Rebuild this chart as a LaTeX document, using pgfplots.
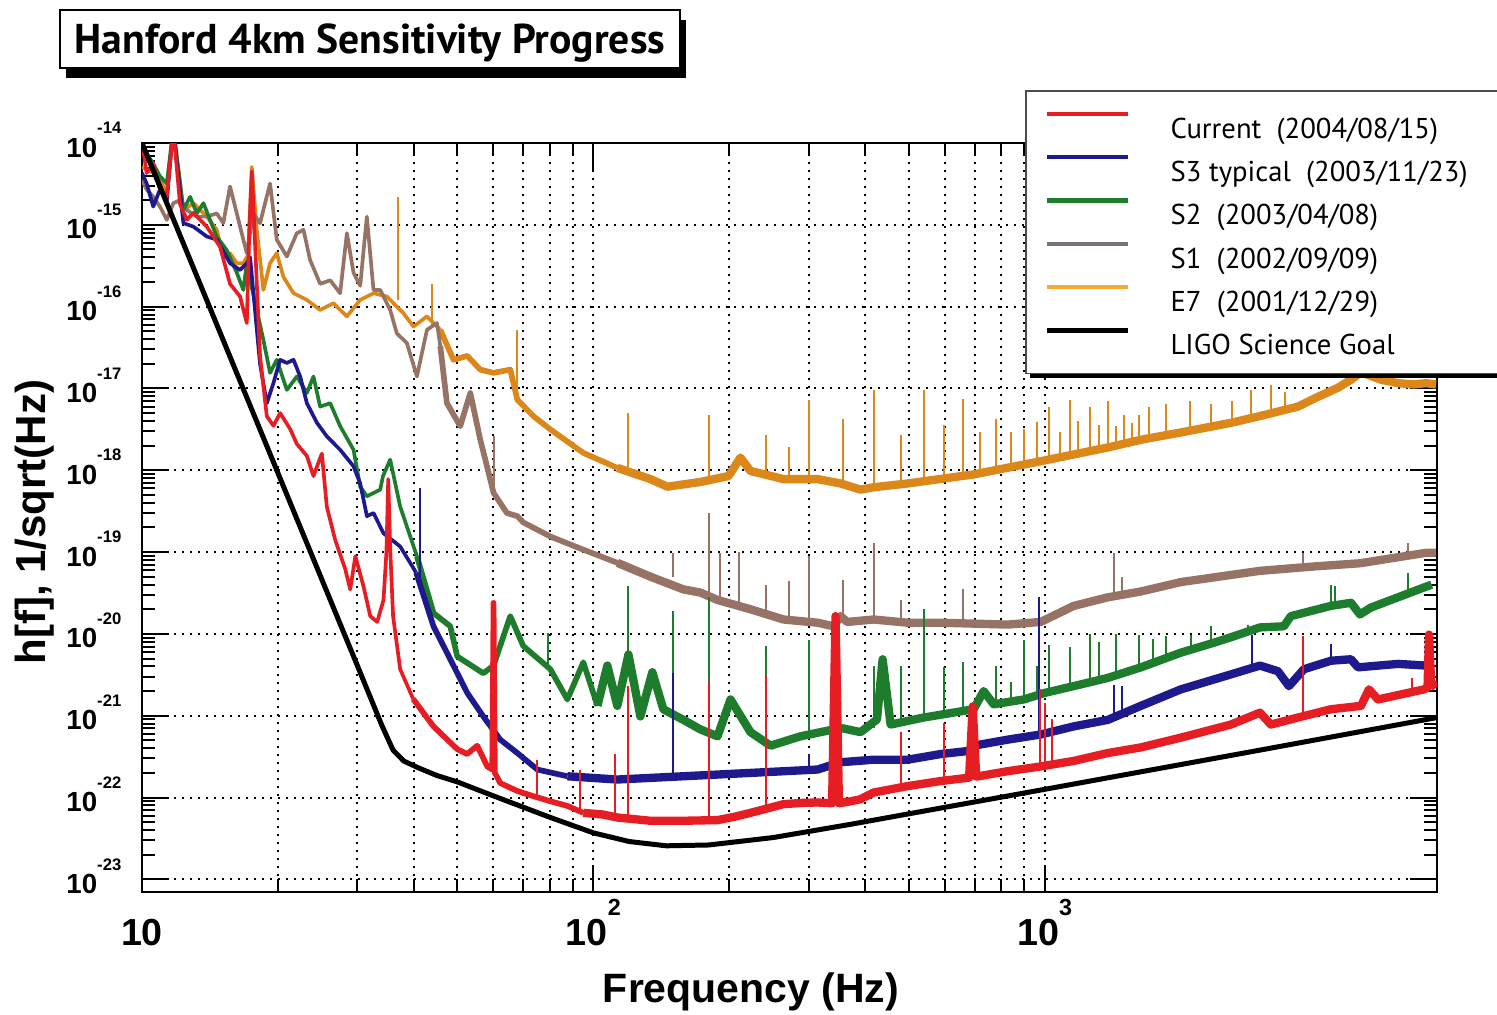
\documentclass[border=0pt]{standalone}
\usepackage{fontspec}
\usepackage{pgfplots}
\pgfplotsset{compat=1.18}
\newfontfamily\helv{Liberation Sans}
\newfontfamily\ptsans{PT Sans}
\definecolor{cred}{RGB}{230,30,35}
\definecolor{cblue}{RGB}{30,25,140}
\definecolor{cgreen}{RGB}{30,125,45}
\definecolor{cbrown}{RGB}{150,115,100}
\definecolor{corange}{RGB}{220,135,25}
\definecolor{lgray}{RGB}{120,112,125}
\definecolor{lorange}{RGB}{245,170,50}
\newcommand{\ylab}[1]{{\helv\bfseries\fontsize{8.3}{9}\selectfont 10\raisebox{7pt}{\fontsize{5}{6}\selectfont #1}}}
\newcommand{\xlab}[1]{{\helv\bfseries\fontsize{11.3}{12}\selectfont 10\raisebox{9pt}{\fontsize{7}{8}\selectfont #1}}}
\newcommand{\lent}[1]{\makebox[105pt][l]{#1}}
\begin{document}
\begin{tikzpicture}
\useasboundingbox (-42.6pt,-36.9pt) rectangle (406.5pt,267.6pt);
\begin{axis}[
  at={(0,0)}, anchor=south west,
  scale only axis, width=388.5pt, height=224.7pt,
  xmode=log, ymode=log,
  xmin=10, xmax=7400, ymin=7e-24, ymax=1e-14,
  clip mode=individual,
  axis line style={black, line width=0.8pt},
  xtick={10,100,1000}, xticklabels={\xlab{}, \xlab{2}, \xlab{3}},
  ytick={1e-23,1e-22,1e-21,1e-20,1e-19,1e-18,1e-17,1e-16,1e-15,1e-14},
  yticklabels={\ylab{-23},\ylab{-22},\ylab{-21},\ylab{-20},\ylab{-19},\ylab{-18},\ylab{-17},\ylab{-16},\ylab{-15},\ylab{-14}},
  xticklabel style={anchor=base, inner sep=0pt, yshift=-15.9pt},
  yticklabel style={anchor=base east, inner sep=0pt, xshift=-6pt, yshift=-4.2pt},
  major tick length=8pt, minor tick length=4pt,
  tick style={black, line width=0.6pt},
  xmajorgrids=true, xminorgrids=true, ymajorgrids=true, yminorgrids=false,
  major grid style={black, line width=0.6pt, dash pattern=on 0.6pt off 1.8pt},
  minor grid style={black, line width=0.6pt, dash pattern=on 0.6pt off 1.8pt},
  xlabel={Frequency (Hz)},
  xlabel style={at={(axis description cs:0.4703,-0.148)}, anchor=base, inner sep=0pt, font=\helv\bfseries\fontsize{12.3}{14}\selectfont},
  ylabel={h[f], 1/sqrt(Hz)},
  ylabel style={at={(axis description cs:-0.0749,0.494)}, anchor=base, inner sep=0pt, font=\helv\bfseries\fontsize{12.6}{14}\selectfont},
  unbounded coords=jump,
  legend cell align=left,
  legend image code/.code={\draw[#1] (0pt,3pt) -- (24.5pt,3pt);},
  legend style={at={(0.6819,1.0708)}, anchor=north west,
    draw=black!70, line width=0.5pt, fill=white,
    inner xsep=5.6pt, inner ysep=5.6pt, row sep=4.4pt, column sep=12pt,
    nodes={inner sep=0pt, text height=8.6pt, text depth=0pt},
    font=\ptsans\fontsize{8.6}{10}\selectfont},
  every axis plot/.append style={line join=round},
]
\addlegendimage{cred, line width=1.3pt}\addlegendentry{\lent{Current\ \ (2004/08/15)}}
\addlegendimage{cblue, line width=1.3pt}\addlegendentry{\lent{S3 typical\ \ (2003/11/23)}}
\addlegendimage{cgreen, line width=1.3pt}\addlegendentry{\lent{S2\ \ (2003/04/08)}}
\addlegendimage{lgray, line width=1.3pt}\addlegendentry{\lent{S1\ \ (2002/09/09)}}
\addlegendimage{lorange, line width=1.3pt}\addlegendentry{\lent{E7\ \ (2001/12/29)}}
\addlegendimage{black, line width=1.3pt}\addlegendentry{\lent{LIGO Science Goal}}

% ---------- E7 (orange) ----------
\addplot[corange, line width=1.1pt, forget plot] table {
10.0 5.1e-15
10.59 4.3e-15
10.96 3.55e-15
11.35 2.44e-15
11.73 1.5e-14
12.35 1.52e-15
13.0 1.84e-15
13.92 1.26e-15
14.64 8.7e-16
15.14 4.1e-16
15.67 4.5e-16
16.22 3.4e-16
16.77 3.4e-16
17.2 4.3e-16
17.51 5.1e-15
17.96 8.7e-16
18.58 1.6e-16
19.22 3.4e-16
19.89 4.5e-16
20.58 2.3e-16
21.66 1.46e-16
23.19 1.21e-16
24.81 9.1e-17
26.56 1.1e-16
28.44 7.6e-17
30.44 1.21e-16
32.58 1.46e-16
34.89 1.33e-16
37.96 8.3e-17
39.96 5.7e-17
42.79 7.6e-17
45.8 5.2e-17
};
\addplot[corange, line width=1.7pt, forget plot] table {
45.8 5.2e-17
49.0 2.24e-17
52.56 2.5e-17
56.17 1.7e-17
60.1 1.55e-17
65.46 1.7e-17
67.86 7.3e-18
73.62 4.6e-18
80.3 3.16e-18
95 1.63e-18
113 1.07e-18
};
\addplot[corange, line width=2.5pt, forget plot] table {
113 1.07e-18
133.8 7.8e-19
145.9 6.3e-19
172.7 7.2e-19
199.3 8.5e-19
211.8 1.43e-18
222.9 9.8e-19
263.9 7.8e-19
313.9 7.8e-19
353 6.9e-19
390.8 5.8e-19
417.7 6.2e-19
497 6.9e-19
696 8.9e-19
980 1.29e-18
1380 1.9e-18
1633 2.36e-18
2003 2.9e-18
2585 3.8e-18
2998 4.6e-18
3639 6.0e-18
3990 7.7e-18
4463 1.02e-17
4770 1.28e-17
5019 1.58e-17
5559 1.28e-17
6063 1.16e-17
6580 1.12e-17
6995 1.16e-17
7362 1.12e-17
};
\addplot[corange, line width=0.6pt, forget plot] coordinates {
(37.01,1.2e-16)(37.01,2.21e-15)(37.01,nan)
(43.9,6e-17)(43.9,1.9e-16)(43.9,nan)
(67.86,1e-17)(67.86,5.2e-17)(67.86,nan)
(119.6,1.1e-18)(119.6,5.0e-18)(119.6,nan)
(180,7e-19)(180,4.8e-18)(180,nan)
(240.7,8e-19)(240.7,2.7e-18)(240.7,nan)
(270.7,8e-19)(270.7,1.95e-18)(270.7,nan)
(299.7,8e-19)(299.7,7.3e-18)(299.7,nan)
(358,7e-19)(358,4.2e-18)(358,nan)
(417.7,6e-19)(417.7,9.6e-18)(417.7,nan)
(479.5,6.5e-19)(479.5,2.7e-18)(479.5,nan)
(539.2,7e-19)(539.2,9.6e-18)(539.2,nan)
(597,7.5e-19)(597,3.6e-18)(597,nan)
(658,8e-19)(658,7.4e-18)(658,nan)
(717.7,9e-19)(717.7,2.9e-18)(717.7,nan)
(778.7,1e-18)(778.7,4.2e-18)(778.7,nan)
(840.6,1.1e-18)(840.6,2.9e-18)(840.6,nan)
(898.5,1.2e-18)(898.5,3.2e-18)(898.5,nan)
(960,1.25e-18)(960,3.9e-18)(960,nan)
(1021,1.3e-18)(1021,5.9e-18)(1021,nan)
(1080,1.5e-18)(1080,2.9e-18)(1080,nan)
(1136,1.6e-18)(1136,7.3e-18)(1136,nan)
(1184,1.7e-18)(1184,4.0e-18)(1184,nan)
(1258,1.8e-18)(1258,5.9e-18)(1258,nan)
(1317,1.9e-18)(1317,3.6e-18)(1317,nan)
(1380,2.0e-18)(1380,7.0e-18)(1380,nan)
(1437,2.1e-18)(1437,3.5e-18)(1437,nan)
(1497,2.2e-18)(1497,4.8e-18)(1497,nan)
(1559,2.3e-18)(1559,3.8e-18)(1559,nan)
(1616,2.35e-18)(1616,4.8e-18)(1616,nan)
(1700,2.4e-18)(1700,6e-18)(1700,nan)
(1860,2.7e-18)(1860,6.5e-18)(1860,nan)
(2100,3e-18)(2100,7e-18)(2100,nan)
(2330,3.4e-18)(2330,6.5e-18)(2330,nan)
(2600,3.8e-18)(2600,7e-18)(2600,nan)
(2870,4.4e-18)(2870,9.5e-18)(2870,nan)
(3170,5e-18)(3170,1.1e-17)(3170,nan)
(3400,5.5e-18)(3400,9e-18)(3400,nan)
};

% ---------- S1 (brown) ----------
\addplot[cbrown, line width=1.1pt, forget plot] table {
10.0 3.55e-15
10.24 2.7e-15
10.59 2.2e-15
10.96 1.67e-15
11.35 1.15e-15
11.73 1.84e-15
12.14 2.0e-15
12.57 1.52e-15
13.23 1.26e-15
13.92 1.26e-15
14.64 1.38e-15
15.14 1.05e-15
15.67 2.95e-15
16.22 1.38e-15
16.77 6.6e-16
17.07 4.5e-16
17.65 1.38e-15
18.26 1.05e-15
19.22 3.2e-15
19.89 6.6e-16
20.94 4.1e-16
22.03 7.9e-16
22.79 8.7e-16
23.58 3.7e-16
24.81 1.9e-16
26.12 2.1e-16
27.48 1.46e-16
28.44 7.9e-16
29.42 2.6e-16
30.44 1.8e-16
31.49 1.26e-15
32.58 1.6e-16
33.71 1.6e-16
35.47 9.1e-17
36.7 4.7e-17
38.62 3.6e-17
40.65 1.4e-17
42.79 5.2e-17
45.03 6.3e-17
45.8 3.3e-17
};
\addplot[cbrown, line width=1.7pt, forget plot] table {
45.8 3.3e-17
47.38 6.6e-18
50.71 3.46e-18
53.38 8.8e-18
56.17 2.36e-18
58.12 1.12e-18
60.1 5.3e-19
64.36 3.0e-19
67.86 2.75e-19
70 2.3e-19
80.3 1.55e-19
95 1.07e-19
113 7.4e-20
};
\addplot[cbrown, line width=2.5pt, forget plot] table {
113 7.4e-20
133.8 5.0e-20
158.3 3.5e-20
172.7 3.2e-20
188.4 2.6e-20
222.9 2.0e-20
263.9 1.5e-20
313.9 1.37e-20
340.6 1.24e-20
353 1.65e-20
365 1.4e-20
417.7 1.5e-20
497 1.37e-20
588 1.37e-20
828 1.3e-20
980 1.4e-20
1159 2.2e-20
1380 2.8e-20
1633 3.3e-20
2003 4.3e-20
2998 5.9e-20
3990 6.7e-20
4993 7.3e-20
6995 9.8e-20
7362 9.8e-20
};
\addplot[cbrown, line width=0.6pt, forget plot] coordinates {
(60.1,5.3e-19)(60.1,2.6e-18)(60.1,nan)
(150.4,5e-20)(150.4,9.8e-20)(150.4,nan)
(180,3.2e-20)(180,3.0e-19)(180,nan)
(191.2,2.6e-20)(191.2,9.8e-20)(191.2,nan)
(210,2.3e-20)(210,1.0e-19)(210,nan)
(240.7,1.8e-20)(240.7,4.0e-20)(240.7,nan)
(270.7,1.6e-20)(270.7,4.4e-20)(270.7,nan)
(299.7,1.5e-20)(299.7,8.9e-20)(299.7,nan)
(358,1.4e-20)(358,4.6e-20)(358,nan)
(417.7,1.5e-20)(417.7,1.3e-19)(417.7,nan)
(479.5,1.4e-20)(479.5,2.6e-20)(479.5,nan)
(658,1.4e-20)(658,3.5e-20)(658,nan)
(1422,2.8e-20)(1422,9.8e-20)(1422,nan)
(1482,3e-20)(1482,5e-20)(1482,nan)
(3733,6.5e-20)(3733,9.8e-20)(3733,nan)
(6381,9e-20)(6381,1.3e-19)(6381,nan)
};

% ---------- S2 (green) ----------
\addplot[cgreen, line width=1.1pt, forget plot] table {
10.0 8.2e-15
10.24 7.4e-15
10.59 5.6e-15
10.96 3.9e-15
11.35 3.2e-15
11.73 1.5e-14
12.35 1.52e-15
12.78 2.2e-15
13.23 1.38e-15
13.68 1.84e-15
14.15 1.15e-15
14.64 7.2e-16
15.41 4.9e-16
16.22 2.6e-16
16.77 1.6e-16
17.07 3.4e-16
17.4 2e-16
18.58 3.9e-17
19.22 1.55e-17
19.89 2.24e-17
20.94 9.6e-18
22.03 1.4e-17
23.19 8.8e-18
23.98 1.4e-17
24.81 6.0e-18
26.12 6.6e-18
27.48 3.46e-18
29.42 1.78e-18
30.44 6.3e-19
31.5 4.8e-19
33.71 5.8e-19
34.2 8.5e-19
35.47 1.35e-18
37.33 3.6e-19
40.65 8.9e-20
};
\addplot[cgreen, line width=1.7pt, forget plot] table {
40.65 8.9e-20
44.24 1.8e-20
48.19 1.24e-20
49.94 5.3e-21
57.04 3.3e-21
60.1 4.1e-21
65.46 1.65e-20
69.95 7.1e-21
80.3 3.7e-21
87.58 1.58e-21
95.0 4.5e-21
102.1 1.32e-21
};
\addplot[cgreen, line width=2.5pt, forget plot] table {
102.1 1.32e-21
107.4 4.1e-21
113 1.32e-21
119.6 5.6e-21
127.1 9.8e-22
135.1 3.4e-21
142.9 1.2e-21
158.3 8.9e-22
172.7 6.8e-22
188.4 5.6e-22
201.3 1.58e-21
222.9 6.3e-22
246.9 4.3e-22
287.7 5.6e-22
340.6 6.8e-22
353 7.1e-22
390.8 6.3e-22
425 9e-22
437.4 4.9e-21
455.6 7.8e-22
539.2 9.5e-22
696 1.2e-21
732.4 2.0e-21
770.8 1.38e-21
898.5 1.58e-21
1000 1.9e-21
1159 2.3e-21
1380 2.9e-21
1633 3.9e-21
2003 5.9e-21
2370 7.8e-21
2585 9.1e-21
2998 1.2e-20
3388 1.24e-20
3511 1.65e-20
4306 2.2e-20
4770 2.4e-20
4993 1.73e-20
5282 2.1e-20
6063 2.8e-20
6925 3.7e-20
7200 4.0e-20
};
\addplot[cgreen, line width=0.6pt, forget plot] coordinates {
(79.5,3.7e-21)(79.5,1.04e-20)(79.5,nan)
(119.6,5.6e-21)(119.6,3.8e-20)(119.6,nan)
(150.4,1.2e-21)(150.4,1.9e-20)(150.4,nan)
(180,6.8e-22)(180,2.8e-20)(180,nan)
(240.7,4.3e-22)(240.7,7.1e-21)(240.7,nan)
(299.7,5.6e-22)(299.7,8.5e-21)(299.7,nan)
(417.7,7e-22)(417.7,4.1e-21)(417.7,nan)
(479.5,8e-22)(479.5,4.1e-21)(479.5,nan)
(539.2,9.5e-22)(539.2,2.0e-20)(539.2,nan)
(597,1e-21)(597,3.9e-21)(597,nan)
(658,1.1e-21)(658,4.5e-21)(658,nan)
(778.7,1.4e-21)(778.7,4.1e-21)(778.7,nan)
(840.6,1.5e-21)(840.6,2.6e-21)(840.6,nan)
(898.5,1.58e-21)(898.5,8.5e-21)(898.5,nan)
(960,1.8e-21)(960,4.1e-21)(960,nan)
(1021,2e-21)(1021,7.3e-21)(1021,nan)
(1136,2.3e-21)(1136,7e-21)(1136,nan)
(1258,2.6e-21)(1258,1.0e-20)(1258,nan)
(1317,2.8e-21)(1317,8e-21)(1317,nan)
(1437,3e-21)(1437,1.0e-20)(1437,nan)
(1616,3.9e-21)(1616,9.8e-21)(1616,nan)
(1736,4.5e-21)(1736,8.7e-21)(1736,nan)
(1854,5e-21)(1854,9.3e-21)(1854,nan)
(2107,6e-21)(2107,9.8e-21)(2107,nan)
(2334,7e-21)(2334,1.24e-20)(2334,nan)
(2818,1e-20)(2818,1.3e-20)(2818,nan)
(4306,2.2e-20)(4306,4.0e-20)(4306,nan)
(4400,2.2e-20)(4400,3.8e-20)(4400,nan)
(6381,2.8e-20)(6381,5.6e-20)(6381,nan)
};

% ---------- S3 (blue) ----------
\addplot[cblue, line width=1.1pt, forget plot] table {
10.0 4.3e-15
10.24 3.2e-15
10.59 1.67e-15
10.96 2.7e-15
11.35 2.0e-15
11.73 1.5e-14
12.35 1.05e-15
13.0 9.5e-16
13.92 7.2e-16
14.64 6.6e-16
15.67 3.4e-16
16.49 2.8e-16
17.07 3.4e-16
17.36 4.0e-16
18.26 2.0e-17
18.9 6.6e-18
19.55 1.16e-17
20.23 2.24e-17
20.94 2.05e-17
21.66 2.24e-17
22.41 1.4e-17
23.19 6.6e-18
24.41 3.8e-18
25.67 2.6e-18
27.48 1.78e-18
29.42 1.12e-18
30.44 6.9e-19
31.5 2.75e-19
32.58 3.0e-19
34.28 1.7e-19
37.33 1.17e-19
40.5 5.6e-20
};
\addplot[cblue, line width=1.7pt, forget plot] table {
40.5 5.6e-20
44.24 1.24e-20
48.19 4.9e-21
52.56 1.9e-21
57.04 9.8e-22
62.19 5.1e-22
67.86 3.5e-22
75.13 2.2e-22
87.58 1.82e-22
};
\addplot[cblue, line width=2.5pt, forget plot] table {
87.58 1.82e-22
113 1.66e-22
158.3 1.82e-22
222.9 2.0e-22
313.9 2.2e-22
353 2.7e-22
417.7 2.9e-22
497 2.9e-22
588 3.4e-22
675 3.7e-22
696 4.3e-22
828 5.1e-22
980 5.9e-22
1159 7.4e-22
1380 8.9e-22
1633 1.32e-21
2003 2.1e-21
2585 3.2e-21
2998 4.1e-21
3286 3.5e-21
3475 2.3e-21
3752 3.7e-21
4306 4.7e-21
4770 4.9e-21
4943 3.9e-21
6063 4.3e-21
6995 4.1e-21
7200 4.0e-21
};
\addplot[cblue, line width=0.6pt, forget plot] coordinates {
(41.35,4.5e-20)(41.35,6.0e-19)(41.35,nan)
(150.4,1.8e-22)(150.4,3.3e-21)(150.4,nan)
(299.7,2.2e-22)(299.7,3.4e-22)(299.7,nan)
(970,5.9e-22)(970,2.8e-20)(970,nan)
(1422,9e-22)(1422,2.4e-21)(1422,nan)
(1482,1e-21)(1482,2.3e-21)(1482,nan)
(2877,3.8e-21)(2877,9.8e-21)(2877,nan)
(4306,4.7e-21)(4306,7.5e-21)(4306,nan)
};

% ---------- Current (red) ----------
\addplot[cred, line width=1.1pt, forget plot] table {
10.07 8.2e-15
10.24 4.3e-15
10.59 5.6e-15
10.96 2.7e-15
11.35 2.2e-15
11.73 1.5e-14
12.14 1.8e-15
12.57 1.15e-15
13.0 1.4e-15
13.92 9.5e-16
14.89 5.4e-16
15.67 1.9e-16
16.49 1.33e-16
17.07 6.3e-17
17.3 1.0e-15
17.51 4.5e-15
17.7 1.2e-15
18.26 2.5e-17
18.9 4.6e-18
19.55 3.5e-18
20.23 5.0e-18
21.29 3.2e-18
22.03 2.1e-18
23.19 1.5e-18
23.98 8.5e-19
25.03 1.6e-18
25.67 3.6e-19
26.8 1.4e-19
28.2 6.2e-20
28.93 3.5e-20
29.7 8.9e-20
30.96 3.8e-20
32.04 1.65e-20
33.2 1.4e-20
34.28 2.6e-20
34.8 1e-19
35.12 7.8e-19
35.5 1e-19
36.0 1.65e-20
37.33 3.7e-21
39.9 1.6e-21
};
\addplot[cred, line width=1.7pt, forget plot] table {
39.9 1.6e-21
44.24 7.4e-22
49.94 3.9e-22
52.5 3.4e-22
55.3 4.3e-22
58.2 2.4e-22
59.7 2.2e-22
60.1 2.4e-20
60.5 2.0e-22
62.19 1.5e-22
67.9 1.2e-22
73.6 1.04e-22
80.3 9e-23
87.6 7.9e-23
95.0 6.5e-23
};
\addplot[cred, line width=2.5pt, forget plot] table {
95.0 6.5e-23
105 6.2e-23
113 5.7e-23
125 5.4e-23
133.8 5.2e-23
158.3 5.2e-23
188.4 5.3e-23
205 5.8e-23
222.9 6.5e-23
263.9 8.3e-23
290 8.6e-23
313.9 8.7e-23
338 8.5e-23
344 1.65e-20
350 8.5e-23
371.5 9e-23
390 9.5e-23
417.7 1.15e-22
497 1.38e-22
588 1.59e-22
680 1.75e-22
692.5 1.3e-21
705 1.8e-22
828 2.1e-22
980 2.4e-22
1159 2.8e-22
1380 3.5e-22
1633 4.1e-22
2003 5.4e-22
2585 7.8e-22
2998 1.09e-21
3170 7.8e-22
3639 9.5e-22
4306 1.2e-21
5019 1.32e-21
5228 2.1e-21
5475 1.58e-21
6925 2.1e-21
7050 2.2e-21
7102 9.8e-21
7180 2.6e-21
7362 2.2e-21
};
\addplot[cred, line width=0.6pt, forget plot] coordinates {
(75.1,1.0e-22)(75.1,2.9e-22)(75.1,nan)
(93.6,7e-23)(93.6,2.2e-22)(93.6,nan)
(111.9,6e-23)(111.9,3.4e-22)(111.9,nan)
(119.6,5.5e-23)(119.6,2.3e-21)(119.6,nan)
(180,5.2e-23)(180,2.6e-21)(180,nan)
(240.7,7e-23)(240.7,3.1e-21)(240.7,nan)
(479.5,1.3e-22)(479.5,6.3e-22)(479.5,nan)
(597,1.6e-22)(597,8.1e-22)(597,nan)
(975,2.4e-22)(975,2.1e-21)(975,nan)
(1000,2.4e-22)(1000,1.45e-21)(1000,nan)
(1040,2.5e-22)(1040,9e-22)(1040,nan)
(3733,9.5e-22)(3733,9.3e-21)(3733,nan)
(6500,1.9e-21)(6500,2.9e-21)(6500,nan)
};

% ---------- LIGO Science Goal (black) ----------
\addplot[black, line width=1.5pt, forget plot] table {
10 1.0e-14
20 9.3e-19
30 4.1e-21
34 7.6e-22
36 3.8e-22
38 2.8e-22
41 2.3e-22
45 1.86e-22
50 1.55e-22
60 1.05e-22
80 5.75e-23
100 3.7e-23
120 2.9e-23
145 2.57e-23
180 2.63e-23
250 3.24e-23
371 4.7e-23
1000 1.26e-22
3000 3.8e-22
7400 9.5e-22
};
% legend shadow (drawn beneath the legend box)
\fill[black] (axis description cs:0.6858,0.6862) rectangle (axis description cs:1.2,1.0641);
\end{axis}
\fill[black] (70.2pt,252.9pt) ++(-93pt,-8.7pt) rectangle ++(186pt,17.4pt);
\filldraw[draw=black, line width=0.5pt, fill=white] (68.4pt,255.9pt) ++(-93pt,-8.7pt) rectangle ++(186pt,17.4pt);
\node[inner sep=0pt, font=\ptsans\bfseries\fontsize{12.5}{14}\selectfont] at (68.4pt,254.7pt) {Hanford 4km Sensitivity Progress};
\end{tikzpicture}
\end{document}
